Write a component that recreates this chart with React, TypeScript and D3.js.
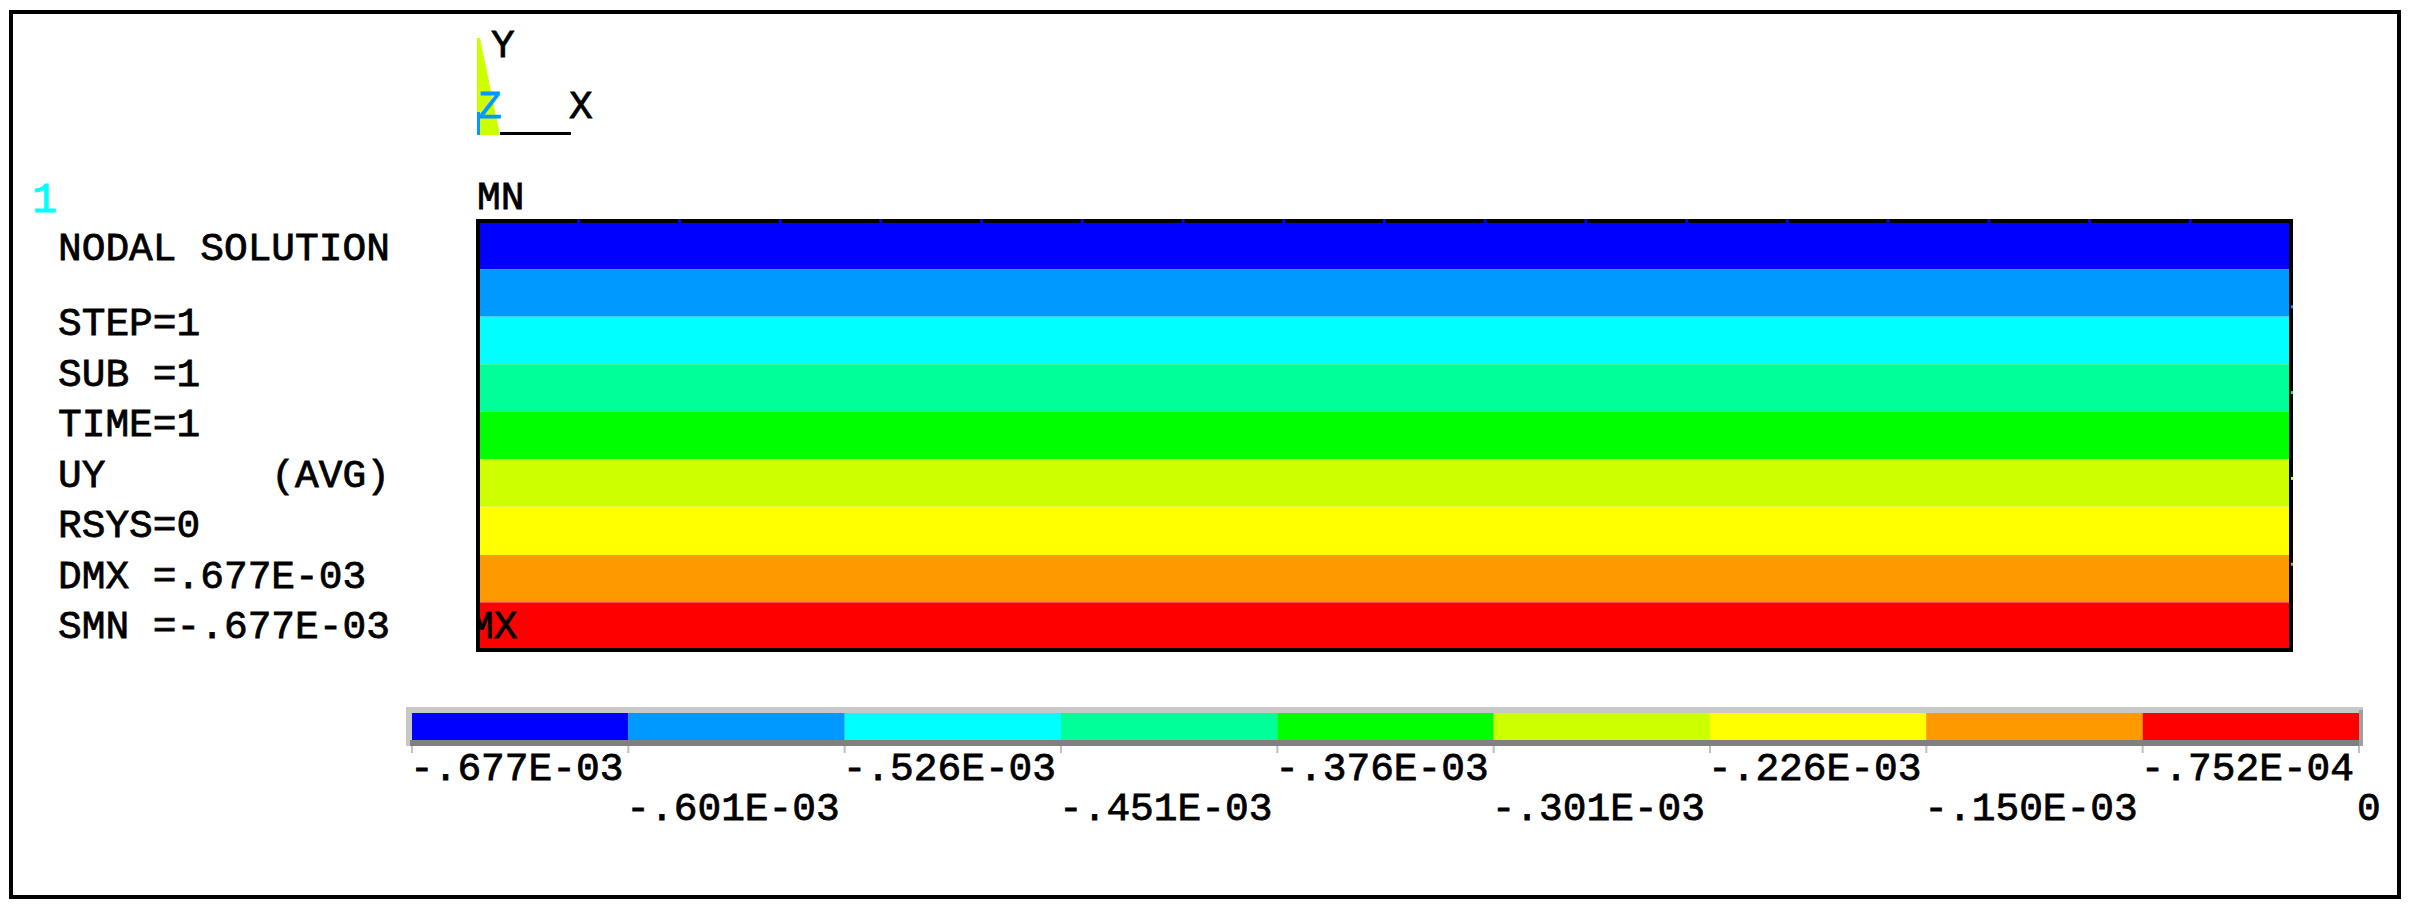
import React from 'react';
import * as d3 from 'd3';

const W = 2411;
const H = 911;

// contour levels (UY) and their legend labels
const levels = [-6.77e-4, -6.01e-4, -5.26e-4, -4.51e-4, -3.76e-4, -3.01e-4, -2.26e-4, -1.5e-4, -7.52e-5, 0];
const levelLabels = ['-.677E-03', '-.601E-03', '-.526E-03', '-.451E-03', '-.376E-03', '-.301E-03', '-.226E-03', '-.150E-03', '-.752E-04', '0'];
const bandColors = ['#0000ff', '#0099ff', '#00ffff', '#00ff99', '#00ff00', '#ccff00', '#ffff00', '#ff9900', '#ff0000'];

const infoLines = ['STEP=1', 'SUB =1', 'TIME=1', 'UY       (AVG)', 'RSYS=0', 'DMX =.677E-03', 'SMN =-.677E-03'];

// element divisions of the mesh
const meshCols = 18;
const meshRows = 5;

const FONT = '"Liberation Mono", "Courier New", monospace';
const keepSpaces = (s: string) => s.replace(/ /g, '\u00a0');

export default function App() {
  const box = { left: 478, right: 2291, top: 221, bottom: 650 };
  const bar = { left: 412, right: 2359, top: 713, bottom: 740 };

  // UY runs from SMN at the top edge to 0 at the bottom edge
  const y = d3.scaleLinear().domain([levels[0], levels[levels.length - 1]]).range([box.top, box.bottom]);
  const color = d3.scaleThreshold<number, string>().domain(levels.slice(1, -1)).range(bandColors);
  const colX = d3.scaleLinear().domain([0, meshCols]).range([box.left, box.right]);
  const rowY = d3.scaleLinear().domain([0, meshRows]).range([box.top, box.bottom]);
  const tickX = d3.scalePoint<string>().domain(levelLabels).range([bar.left, bar.right]);

  // slight outline makes the glyphs look closer to the heavy bitmap font
  const txt = { fontFamily: FONT, fontSize: 39.5, fontWeight: 400, strokeWidth: 0.8 };

  return (
    <svg width={W} height={H} style={{ position: 'absolute', left: 0, top: 0, display: 'block', background: '#fff' }}>
      <defs>
        <clipPath id="boxclip">
          <rect x={box.left} y={box.top} width={box.right - box.left} height={box.bottom - box.top} />
        </clipPath>
      </defs>
      <rect x={11} y={12} width={2388} height={885} fill="none" stroke="#000" strokeWidth={4} />

      {/* triad */}
      <polygon points="477,38 480,38 500,135 477,135" fill="#ccff00" />
      <rect x={477} y={112} width={3} height={23} fill="#0099ff" />
      <line x1={500} x2={571} y1={133.5} y2={133.5} stroke="#000" strokeWidth={3} />
      <text x={491} y={57} {...txt} fill="#000" stroke="#000">Y</text>
      <text x={478} y={118} {...txt} fill="#0099ff" stroke="#0099ff">Z</text>
      <text x={569} y={118} {...txt} fill="#000" stroke="#000">X</text>

      {/* window number and info block */}
      <text x={32} y={212} {...txt} fontSize={42} fill="#00ffff" stroke="#00ffff">1</text>
      <text x={58} y={260} {...txt} fill="#000" stroke="#000">{keepSpaces('NODAL SOLUTION')}</text>
      {infoLines.map((s, i) => (
        <text key={s} x={58} y={335 + i * 50.5} {...txt} fill="#000" stroke="#000">{keepSpaces(s)}</text>
      ))}

      {/* contour bands */}
      {bandColors.map((c, i) => (
        <rect key={c} x={box.left} y={y(levels[i])} width={box.right - box.left}
          height={y(levels[i + 1]) - y(levels[i])} fill={c} />
      ))}
      <text x={470} y={638} {...txt} fill="#000" stroke="#000" clipPath="url(#boxclip)">MX</text>
      <rect x={box.left} y={box.top} width={box.right - box.left} height={box.bottom - box.top}
        fill="none" stroke="#000" strokeWidth={4} />
      {d3.range(1, meshCols).map((i) => (
        <rect key={'c' + i} x={colX(i) - 1.5} y={box.top - 2} width={3} height={4} fill={color(levels[0])} />
      ))}
      {d3.range(1, meshRows).map((j) => (
        <rect key={'r' + j} x={box.right} y={rowY(j) - 1.5} width={2} height={3} fill={color(y.invert(rowY(j)))} />
      ))}
      <text x={477} y={209} {...txt} fill="#000" stroke="#000">MN</text>

      {/* legend bar */}
      <rect x={406} y={707} width={2363 - 406} height={39} fill="#c8c8c8" />
      <rect x={410} y={bar.bottom} width={2363 - 410} height={6} fill="#808080" />
      <rect x={bar.right} y={710} width={4} height={36} fill="#a0a0a0" />
      {bandColors.map((c, i) => (
        <rect key={'b' + c} x={tickX(levelLabels[i])!} y={bar.top}
          width={tickX(levelLabels[i + 1])! - tickX(levelLabels[i])!} height={bar.bottom - bar.top} fill={c} />
      ))}
      {levelLabels.map((l, i) => (
        <g key={l}>
          <line x1={tickX(l)!} x2={tickX(l)!} y1={746} y2={753} stroke="#c0c0c0" strokeWidth={2} />
          <text x={tickX(l)! - 2} y={i % 2 === 0 ? 780 : 820} {...txt} fill="#000" stroke="#000">{l}</text>
        </g>
      ))}
    </svg>
  );
}
